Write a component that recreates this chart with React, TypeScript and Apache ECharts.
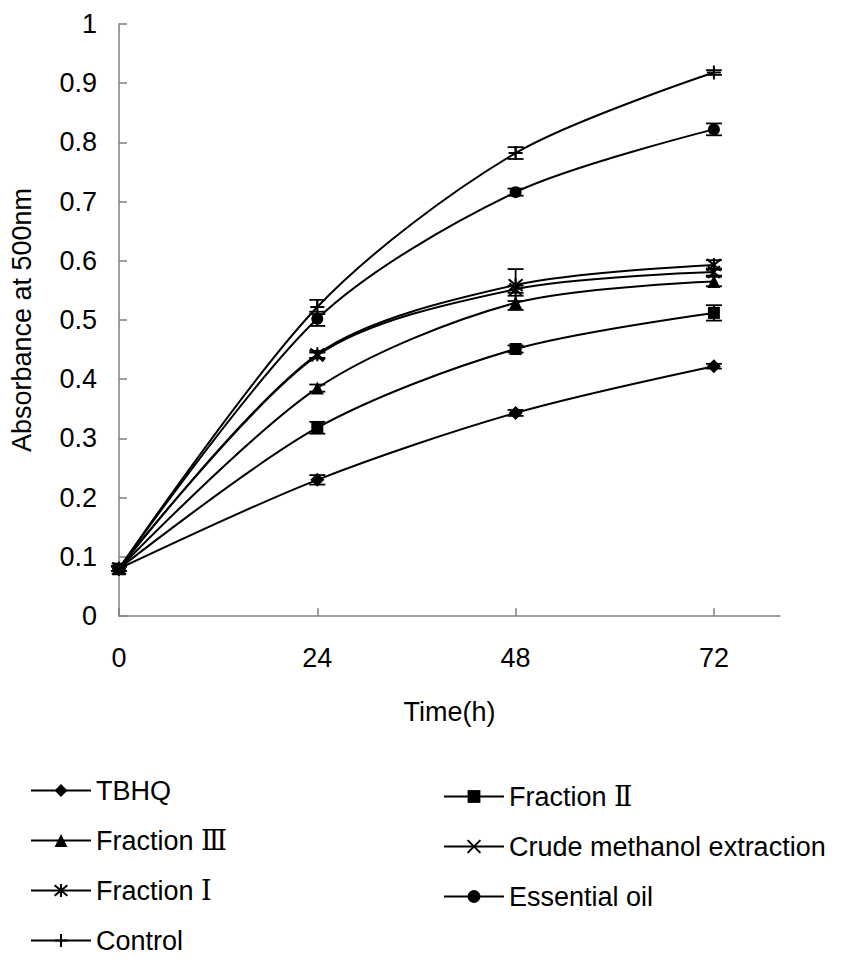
import React, { useEffect, useRef } from "react";
import * as echarts from "echarts";

const times = [0, 24, 48, 72];
const xTicks = [0, 24, 48, 72];

const seriesNames = [
  "TBHQ",
  "Fraction Ⅱ",
  "Fraction Ⅲ",
  "Crude methanol extraction",
  "Fraction Ⅰ",
  "Essential oil",
  "Control",
];

const tbhq = [0.08, 0.23, 0.343, 0.422];
const fractionII = [0.08, 0.318, 0.451, 0.512];
const fractionIII = [0.08, 0.385, 0.529, 0.565];
const crude = [0.08, 0.44, 0.552, 0.581];
const fractionI = [0.08, 0.442, 0.559, 0.593];
const essential = [0.08, 0.502, 0.716, 0.822];
const control = [0.08, 0.522, 0.782, 0.918];

const tbhqErr = [0.004, 0.008, 0.005, 0.004];
const fractionIIErr = [0.004, 0.01, 0.006, 0.013];
const fractionIIIErr = [0.004, 0.006, 0.012, 0.008];
const crudeErr = [0.004, 0.005, 0.006, 0.006];
const fractionIErr = [0.004, 0.006, 0.027, 0.008];
const essentialErr = [0.004, 0.012, 0.006, 0.01];
const controlErr = [0.004, 0.012, 0.01, 0.004];

const leftLegend = ["TBHQ", "Fraction Ⅲ", "Fraction Ⅰ", "Control"];
const rightLegend = ["Fraction Ⅱ", "Crude methanol extraction", "Essential oil"];

const FONT = "'Liberation Sans', Arial, 'DejaVu Serif', sans-serif";

const SYM_X = "path://M0,0L10,10M10,0L0,10";
const SYM_PLUS = "path://M5,0L5,10M0,5L10,5";
const SYM_STAR = "path://M0,0L10,10M10,0L0,10M5,-1L5,11";

export default function App() {
  const ref = useRef<HTMLDivElement>(null);

  useEffect(() => {
    if (!ref.current) return;
    const chart = echarts.init(ref.current, undefined, { renderer: "svg" });

    const values = [tbhq, fractionII, fractionIII, crude, fractionI, essential, control];
    const errs = [tbhqErr, fractionIIErr, fractionIIIErr, crudeErr, fractionIErr, essentialErr, controlErr];
    const symbols = ["diamond", "rect", "triangle", SYM_X, SYM_STAR, "circle", SYM_PLUS];
    const sizes = [14, 12, 13, 12, 14, 12, 14];
    const stroked = [false, false, false, true, true, false, true];

    const lineSeries = seriesNames.map((name, i) => ({
      name,
      type: "line",
      data: times.map((t, j) => [t, values[i][j]]),
      smooth: 0.3,
      symbol: symbols[i],
      symbolSize: sizes[i],
      showSymbol: true,
      lineStyle: { color: "#000", width: 2 },
      itemStyle: stroked[i]
        ? { color: "#000", borderColor: "#000", borderWidth: 2 }
        : { color: "#000", borderWidth: 0 },
      emphasis: { disabled: true },
      z: 3,
    }));

    const errData: number[][] = [];
    values.forEach((vals, i) => {
      vals.forEach((v, j) => {
        errData.push([times[j], v - errs[i][j], v + errs[i][j]]);
      });
    });

    const errSeries = {
      name: "errorbars",
      type: "custom",
      coordinateSystem: "cartesian2d",
      data: errData,
      encode: { x: 0, y: [1, 2] },
      z: 4,
      silent: true,
      renderItem: (params: any, api: any) => {
        const lo = api.coord([api.value(0), api.value(1)]);
        const hi = api.coord([api.value(0), api.value(2)]);
        const hw = 8;
        const style = { stroke: "#000", lineWidth: 1.8 };
        return {
          type: "group",
          children: [
            { type: "line", shape: { x1: lo[0], y1: lo[1], x2: hi[0], y2: hi[1] }, style },
            { type: "line", shape: { x1: lo[0] - hw, y1: lo[1], x2: lo[0] + hw, y2: lo[1] }, style },
            { type: "line", shape: { x1: hi[0] - hw, y1: hi[1], x2: hi[0] + hw, y2: hi[1] }, style },
          ],
        };
      },
    };

    const legendCommon = {
      orient: "vertical",
      itemWidth: 60,
      itemHeight: 16,
      itemGap: 23,
      padding: 0,
      height: 190,
      textStyle: { fontSize: 27, color: "#000", fontFamily: FONT },
      selectedMode: false,
    };

    chart.setOption({
      animation: false,
      backgroundColor: "#fff",
      grid: { left: 117, top: 24, width: 663, height: 592, containLabel: false },
      legend: [
        { ...legendCommon, data: leftLegend, left: 30, top: 777 },
        { ...legendCommon, data: rightLegend, left: 443, top: 783 },
      ],
      xAxis: {
        type: "value",
        min: 0,
        max: 80,
        name: "Time(h)",
        nameLocation: "middle",
        nameGap: 82,
        nameTextStyle: { fontSize: 27, color: "#000", fontFamily: FONT },
        axisLine: { show: true, lineStyle: { color: "#808080", width: 1.5 } },
        axisTick: { show: true, inside: true, length: 8, customValues: xTicks, lineStyle: { color: "#808080", width: 1.5 } },
        axisLabel: { customValues: xTicks, fontSize: 27, color: "#000", margin: 28, fontFamily: FONT },
        splitLine: { show: false },
      },
      yAxis: {
        type: "value",
        min: 0,
        max: 1,
        interval: 0.1,
        name: "Absorbance at 500nm",
        nameLocation: "middle",
        nameGap: 84,
        nameTextStyle: { fontSize: 27, color: "#000", fontFamily: FONT },
        axisLine: { show: true, lineStyle: { color: "#808080", width: 1.5 } },
        axisTick: { show: true, inside: true, length: 8, lineStyle: { color: "#808080", width: 1.5 } },
        axisLabel: { fontSize: 27, color: "#000", margin: 22, fontFamily: FONT },
        splitLine: { show: false },
      },
      series: [...lineSeries, errSeries],
    });

    return () => chart.dispose();
  }, []);

  return (
    <div
      ref={ref}
      style={{ position: "absolute", left: 0, top: 0, width: 846, height: 959 }}
    />
  );
}
